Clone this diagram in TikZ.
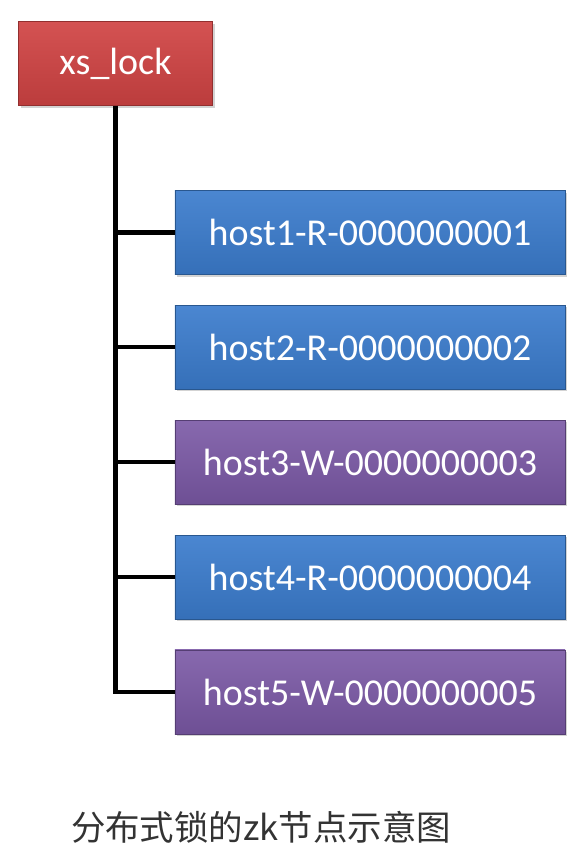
\documentclass[tikz,border=0pt]{standalone}
\usepackage{fontspec}
\setmainfont{Carlito}
\newfontfamily\cjkfont{Noto Sans CJK SC}
\usepackage{xcolor}
\usepackage{tikz}
\usetikzlibrary{positioning,shadows}

\definecolor{lockred}{HTML}{D04343}
\definecolor{readblue}{HTML}{3B7CCD}
\definecolor{writepurple}{HTML}{7A58A5}

\begin{document}
\begin{tikzpicture}[
  x=0.025cm, y=-0.025cm,
  node distance=0.75cm,
  box/.style={draw, line width=0.6pt, text=white, minimum height=2.1cm,
              inner sep=0pt, font=\fontsize{27}{32}\selectfont,
              drop shadow={opacity=0.35, shadow xshift=1.5pt, shadow yshift=-1.5pt}},
  lockbox/.style={box, draw=lockred!70!black, top color=lockred!92!white,
                  bottom color=lockred!90!black, minimum width=4.85cm},
  rbox/.style={box, draw=readblue!70!black, top color=readblue!92!white,
               bottom color=readblue!90!black, minimum width=9.75cm},
  wbox/.style={box, draw=writepurple!70!black, top color=writepurple!90!white,
               bottom color=writepurple!90!black, minimum width=9.75cm},
  trunk/.style={line width=3pt, black}
]
\useasboundingbox (0,0) rectangle (587,859);

\node[lockbox] (lock) at (115.5,63.5) {xs\_lock};

\node[rbox] (h1) at (370,232.5) {host1-R-0000000001};
\node[rbox, below=of h1] (h2) {host2-R-0000000002};
\node[wbox, below=of h2] (h3) {host3-W-0000000003};
\node[rbox, below=of h3] (h4) {host4-R-0000000004};
\node[wbox, below=of h4] (h5) {host5-W-0000000005};

% trunk and branches
\foreach \h in {h1,h2,h3,h4,h5}
  \draw[trunk] (lock.south) |- (\h.west);

\node[font=\cjkfont\fontsize{24.5}{29}\selectfont, text=black!80] (caption)
  at (261,827) {分布式锁的zk节点示意图};
\end{tikzpicture}
\end{document}
